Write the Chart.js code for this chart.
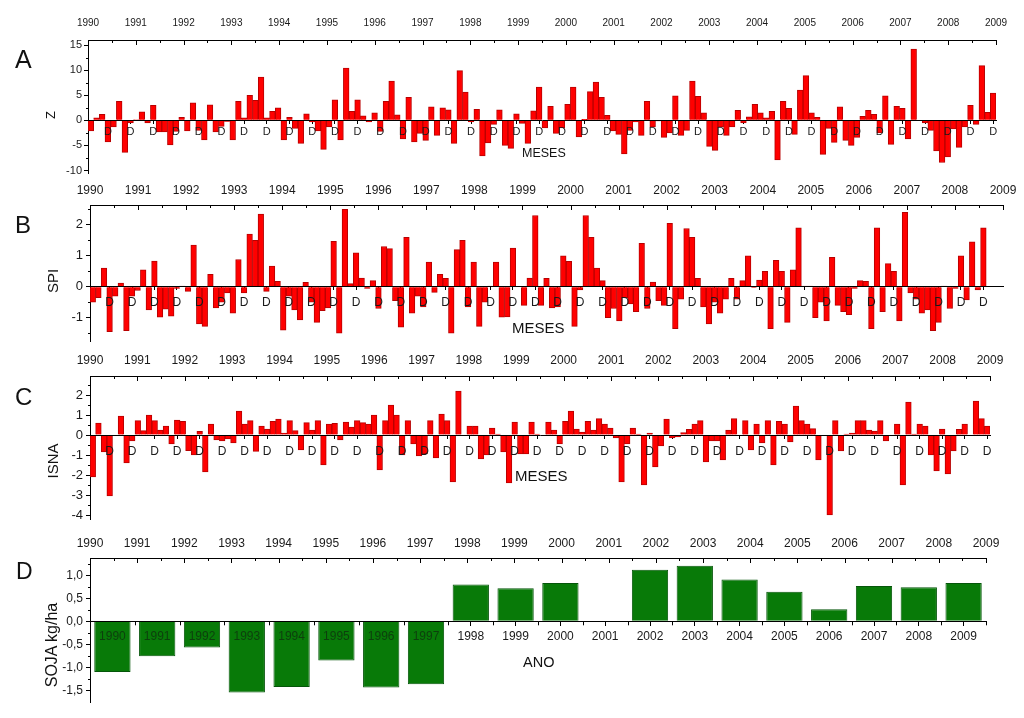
<!DOCTYPE html>
<html lang="pt">
<head>
<meta charset="utf-8">
<title>Z, SPI, ISNA e SOJA</title>
<script src="https://cdn.jsdelivr.net/npm/chart.js@4.4.1/dist/chart.umd.min.js"></script>
<style>
  html, body { margin: 0; padding: 0; background: #fff; }
  #quadro { position: relative; width: 1024px; height: 718px; overflow: hidden; font-family: "Liberation Sans", Arial, sans-serif; color: #111; }
  #quadro canvas { position: absolute; left: 0; }
  .rotulo { position: absolute; white-space: nowrap; line-height: 1; transform: translateY(-50%); }
  .vertical { transform: translate(-50%, -50%) rotate(-90deg); }
</style>
</head>
<body>
<div id="quadro">
  <canvas id="grafA" width="1024" height="190" style="top:0px"></canvas>
  <canvas id="grafB" width="1024" height="180" style="top:178px"></canvas>
  <canvas id="grafC" width="1024" height="188" style="top:348px"></canvas>
  <canvas id="grafD" width="1024" height="193" style="top:525px"></canvas>

  <div class="rotulo" style="left:15px;top:59px;font-size:25px">A</div>
  <div class="rotulo" style="left:15px;top:225px;font-size:24px">B</div>
  <div class="rotulo" style="left:15px;top:397px;font-size:24px">C</div>
  <div class="rotulo" style="left:16px;top:571px;font-size:23px">D</div>

  <div class="rotulo vertical" style="left:50px;top:115px;font-size:13px">Z</div>
  <div class="rotulo vertical" style="left:52px;top:281px;font-size:15px">SPI</div>
  <div class="rotulo vertical" style="left:52px;top:461px;font-size:15px">ISNA</div>
  <div class="rotulo vertical" style="left:52px;top:645px;font-size:16px">SOJA kg/ha</div>

  <div class="rotulo" style="left:522px;top:153px;font-size:12.5px">MESES</div>
  <div class="rotulo" style="left:512px;top:327px;font-size:15px">MESES</div>
  <div class="rotulo" style="left:515px;top:475px;font-size:15px">MESES</div>
  <div class="rotulo" style="left:523px;top:662px;font-size:14.5px">ANO</div>
</div>

<script>
const FONTE = '"Liberation Sans", Arial, sans-serif';

// eixo superior e categorias do painel D
const anos = [1990, 1991, 1992, 1993, 1994, 1995, 1996, 1997, 1998, 1999,
  2000, 2001, 2002, 2003, 2004, 2005, 2006, 2007, 2008, 2009];
const rotulosAnos = anos.map(String);

// 160 meses, marca "D" em cada dezembro
const rotulosMeses = Array.from({ length: 160 }, (_, i) => (i % 4 === 3 ? "D" : ""));

// A - indice Z
const indiceZ = [
  -2.1, 0.5, 1.2, -4.3, -1.3, 3.8, -6.4, -0.5, 0.1, 1.7, -0.5, 3.0, -2.3, -2.3, -4.9, -2.2,
  0.6, -2.1, 3.5, -2.0, -3.9, 3.1, -2.3, -1.2, -0.2, -3.9, 3.8, 0.5, 5.0, 4.0, 8.6, 0.5,
  1.8, 2.5, -3.9, 0.6, -1.6, -4.6, 1.3, -0.3, -2.1, -5.8, -1.3, 4.1, -3.9, 10.4, 1.8, 4.1,
  0.9, -0.3, 1.5, -2.2, 3.8, 7.8, 1.1, -3.7, 4.6, -4.3, -2.6, -4.0, 2.7, -3.0, 2.5, 2.1,
  -4.6, 9.9, 5.6, -0.3, 2.2, -7.1, -4.5, -0.8, 2.1, -5.0, -5.6, 1.3, -0.6, -4.6, 1.9, 6.6,
  -1.5, 2.8, -2.6, -1.5, 3.2, 6.6, -3.3, 0.2, 5.7, 7.6, 4.6, 1.0, -2.1, -2.8, -6.7, -2.0,
  -0.3, -3.0, 3.8, -1.3, -0.1, -3.4, -2.5, 4.9, -3.0, -2.0, 7.8, 4.8, 1.5, -5.2, -6.0, -1.3,
  -3.0, -1.3, 2.0, -0.5, 0.7, 3.2, 1.5, 0.5, 1.8, -7.9, 3.8, 2.4, -2.8, 6.0, 8.9, 1.5,
  0.6, -6.8, -1.6, -4.4, 2.7, -4.0, -5.0, -3.4, 0.8, 2.0, 1.2, -2.5, 4.9, -4.8, 2.8, 2.4,
  -3.7, 14.2, 0.0, -0.5, -2.0, -6.1, -8.4, -7.3, -1.7, -5.4, -1.3, 3.0, -0.8, 10.9, 1.6, 5.4
];

// B - SPI
const indiceSPI = [
  -0.5, -0.35, 0.6, -1.45, -0.3, 0.12, -1.42, -0.3, -0.12, 0.55, -0.75, 0.83, -0.98, -0.72, -0.95, -0.05,
  0.02, -0.15, 1.35, -1.2, -1.28, 0.4, -0.68, -0.5, -0.2, -0.85, 0.88, -0.2, 1.7, 1.5, 2.35, -0.15,
  0.67, 0.18, -1.4, -0.3, -0.75, -1.07, 0.14, -0.5, -1.15, -0.77, -0.68, 1.47, -1.5, 2.5, 0.1, 1.1,
  0.28, -0.05, 0.2, -0.7, 1.3, 1.23, -0.45, -1.3, 1.6, -0.85, -0.3, -0.65, 0.8, -0.18, 0.4, 0.27,
  -1.5, 1.2, 1.5, -0.65, 0.8, -1.28, -0.5, 0.02, 0.8, -0.98, -0.97, 1.25, 0.0, -0.6, 0.28, 2.3,
  -0.6, 0.27, -0.68, -0.65, 1.0, 0.82, -1.28, -0.1, 2.3, 1.6, 0.6, 0.2, -1.0, -0.7, -1.1, -0.35,
  -0.55, -0.8, 1.4, -0.7, 0.15, -0.45, -0.6, 2.05, -1.35, -0.4, 1.88, 1.6, 0.27, -0.65, -1.2, -0.5,
  -0.85, -0.4, 0.27, -0.4, 0.2, 1.0, -0.02, 0.22, 0.5, -1.35, 0.85, 0.5, -1.15, 0.55, 1.9, 0.02,
  0.02, -1.0, -0.5, -1.1, 0.95, -0.6, -0.8, -0.9, -0.05, 0.2, 0.18, -1.35, 1.9, -0.8, 0.75, 0.5,
  -1.1, 2.4, -0.2, -0.4, -0.85, -0.75, -1.42, -1.15, 0.02, -0.7, -0.05, 1.0, -0.42, 1.45, -0.1, 1.9
];

// C - ISNA
const indiceISNA = [
  -2.1, 0.6, -0.85, -3.05, 0.0, 0.95, -1.4, -0.3, 0.72, 0.22, 1.0, 0.72, 0.25, 0.45, -0.45, 0.75,
  0.68, -0.78, -1.0, 0.18, -1.85, 0.55, -0.25, -0.3, -0.2, -0.4, 1.2, 0.55, 0.72, -0.82, 0.45, 0.3,
  0.68, 0.8, 0.1, 0.72, 0.22, -0.75, 0.62, 0.25, 0.72, -1.5, 0.55, 0.58, -0.25, 0.65, 0.4, 0.72,
  0.62, 0.55, 1.0, -1.75, 0.72, 1.5, 1.0, -1.0, 0.72, -0.45, -1.05, -0.95, 0.72, -1.15, 1.05, 0.72,
  -2.35, 2.2, 0.0, 0.45, 0.45, -1.2, -1.0, 0.35, 0.05, -0.85, -2.4, 0.65, -0.95, -0.95, 0.65, 0.05,
  0.0, 0.65, 0.25, -0.45, 0.68, 1.2, 0.3, 0.15, 0.68, 0.25, 0.82, 0.55, 0.35, -0.15, -2.35, -0.45,
  0.35, 0.05, -2.5, 0.1, -1.6, -0.55, 0.8, -0.15, -0.1, 0.12, 0.28, 0.55, 0.72, -1.35, -0.3, -0.3,
  -1.25, 0.25, 0.82, 0.0, 0.72, -0.75, 0.55, -0.4, 0.72, -1.5, 0.68, 0.55, -0.35, 1.45, 0.72, 0.55,
  0.32, -1.25, 0.0, -4.0, 0.72, -0.8, 0.05, 0.1, 0.72, 0.72, 0.25, 0.2, 0.72, -0.3, 0.0, 0.55,
  -2.5, 1.65, 0.05, 0.55, 0.45, -1.0, -1.8, 0.3, -1.95, -0.8, 0.28, 0.55, 0.0, 1.7, 0.82, 0.45
];

// D - produtividade da soja (anomalia)
const sojaAnomalia = [-1.10, -0.76, -0.57, -1.55, -1.43, -0.85, -1.44, -1.37, 0.80, 0.72,
  0.83, 0.01, 1.12, 1.21, 0.91, 0.64, 0.26, 0.77, 0.74, 0.83];

const meiosAnos = anos.slice(0, -1).map((a) => a + 0.5);

// marcas curtas (menores e internas) desenhadas sobre as escalas
function marcasEixos(lista) {
  return {
    id: "marcasEixos",
    afterDraw(chart) {
      const c = chart.ctx;
      const y0 = chart.scales.y.getPixelForValue(0);
      c.save();
      c.strokeStyle = "#000";
      c.lineWidth = 1;
      lista.forEach((m) => {
        const s = chart.scales[m.eixo];
        m.valores.forEach((v) => {
          const p = Math.round(s.getPixelForValue(v)) + 0.5;
          c.beginPath();
          if (m.eixo === "y") {
            c.moveTo(s.right, p);
            c.lineTo(s.right - m.tam, p);
          } else if (m.eixo === "anos") {
            c.moveTo(p, s.bottom);
            c.lineTo(p, s.bottom + m.tam);
          } else {
            c.moveTo(p, y0);
            c.lineTo(p, y0 + m.tam);
          }
          c.stroke();
        });
      });
      c.restore();
    },
  };
}

function montarPainel(id, cfg) {
  return new Chart(document.getElementById(id), {
    type: "bar",
    data: {
      labels: cfg.rotulos,
      datasets: [{
        data: cfg.valores,
        backgroundColor: cfg.cor,
        borderColor: cfg.borda,
        borderWidth: 1,
        barPercentage: cfg.largura,
        categoryPercentage: 1,
      }],
    },
    options: {
      responsive: false,
      animation: false,
      events: [],
      layout: { padding: cfg.margem },
      plugins: {
        legend: { display: false },
        tooltip: { enabled: false },
      },
      scales: {
        x: {
          type: "category",
          position: { y: 0 },
          offset: true,
          border: { color: "#000", width: 1, z: 1 },
          grid: {
            drawOnChartArea: false,
            offset: false,
            tickLength: cfg.xMarca,
            tickColor: cfg.xMarcaCor,
          },
          ticks: {
            autoSkip: false,
            maxRotation: 0,
            minRotation: 0,
            padding: cfg.xPad,
            color: cfg.xCor,
            font: { family: FONTE, size: cfg.xFonte },
            z: 1,
          },
        },
        anos: {
          type: "linear",
          position: "top",
          offset: false,
          min: anos[0],
          max: anos[anos.length - 1],
          afterFit: (s) => { s.height = cfg.topo; },
          border: { color: "#000", width: 1 },
          grid: { drawOnChartArea: false, drawTicks: false, offset: false },
          ticks: {
            stepSize: 1,
            autoSkip: false,
            maxRotation: 0,
            padding: cfg.topoPad,
            color: "#1a1a1a",
            font: { family: FONTE, size: cfg.topoFonte },
            callback: (v) => String(v),
          },
        },
        y: {
          position: "left",
          min: cfg.min,
          max: cfg.max,
          afterFit: (s) => { s.width = cfg.yLarg; },
          border: { color: "#000", width: 1 },
          grid: { drawOnChartArea: false, tickLength: 4, tickColor: "#000" },
          ticks: {
            stepSize: cfg.passo,
            includeBounds: false,
            padding: cfg.yPad,
            color: "#1a1a1a",
            font: { family: FONTE, size: cfg.yFonte },
            callback: cfg.yFormato || ((v) => String(v)),
          },
        },
      },
    },
    plugins: [marcasEixos(cfg.marcas)],
  });
}

const marcaDezembro = (c) => (c.index % 4 === 3 ? "#000" : "rgba(0,0,0,0)");

montarPainel("grafA", {
  rotulos: rotulosMeses,
  valores: indiceZ,
  cor: "#ff0000",
  borda: "#b80000",
  largura: 1,
  margem: { left: 0, right: 28, top: 0, bottom: 17 },
  topo: 40, topoPad: 11, topoFonte: 10,
  yLarg: 88, yPad: 2, yFonte: 11,
  min: -10.5, max: 16, passo: 5,
  xMarca: 3, xMarcaCor: marcaDezembro, xPad: 2, xCor: "#1a1a1a", xFonte: 11,
  marcas: [
    { eixo: "y", valores: [-7.5, -2.5, 2.5, 7.5, 12.5], tam: 2 },
    { eixo: "anos", valores: anos, tam: 5 },
    { eixo: "anos", valores: meiosAnos, tam: 3 },
  ],
});

montarPainel("grafB", {
  rotulos: rotulosMeses.concat(["", "", ""]),
  valores: indiceSPI,
  cor: "#ff0000",
  borda: "#b80000",
  largura: 1,
  margem: { left: 0, right: 21, top: 0, bottom: 17 },
  topo: 27, topoPad: 7, topoFonte: 12,
  yLarg: 90, yPad: 3, yFonte: 13,
  min: -1.75, max: 2.64, passo: 1,
  xMarca: 3, xMarcaCor: marcaDezembro, xPad: 6, xCor: "#1a1a1a", xFonte: 12,
  marcas: [
    { eixo: "y", valores: [-1.5, -0.5, 0.5, 1.5, 2.5], tam: 2 },
    { eixo: "anos", valores: anos, tam: 5 },
    { eixo: "anos", valores: meiosAnos, tam: 3 },
  ],
});

montarPainel("grafC", {
  rotulos: rotulosMeses,
  valores: indiceISNA,
  cor: "#ff0000",
  borda: "#b80000",
  largura: 1,
  margem: { left: 0, right: 34, top: 0, bottom: 17 },
  topo: 28, topoPad: 8, topoFonte: 12,
  yLarg: 90, yPad: 3, yFonte: 13,
  min: -4.2, max: 2.95, passo: 1,
  xMarca: 3, xMarcaCor: marcaDezembro, xPad: 6, xCor: "#1a1a1a", xFonte: 12,
  marcas: [
    { eixo: "y", valores: [-3.5, -2.5, -1.5, -0.5, 0.5, 1.5, 2.5], tam: 2 },
    { eixo: "anos", valores: anos, tam: 5 },
    { eixo: "anos", valores: meiosAnos, tam: 3 },
  ],
});

montarPainel("grafD", {
  rotulos: rotulosAnos,
  valores: sojaAnomalia,
  cor: "#087a08",
  borda: "#05560a",
  largura: 0.81,
  margem: { left: 0, right: 38, top: 0, bottom: 16 },
  topo: 33, topoPad: 7, topoFonte: 12,
  yLarg: 90, yPad: 3, yFonte: 12,
  min: -1.754, max: 1.376, passo: 0.5,
  yFormato: (v) => v.toFixed(1).replace(".", ",").replace("-0,0", "0,0"),
  xMarca: 4, xMarcaCor: "#000", xPad: 4, xFonte: 12,
  xCor: (c) => (sojaAnomalia[c.index] < 0 ? "#0d3f0d" : "#1a1a1a"),
  marcas: [
    { eixo: "y", valores: [-1.25, -0.75, -0.25, 0.25, 0.75, 1.25], tam: 2 },
    { eixo: "anos", valores: anos, tam: 5 },
    { eixo: "anos", valores: meiosAnos, tam: 3 },
    { eixo: "x", valores: Array.from({ length: 21 }, (_, i) => i - 0.5), tam: 4 },
  ],
});
</script>
</body>
</html>
